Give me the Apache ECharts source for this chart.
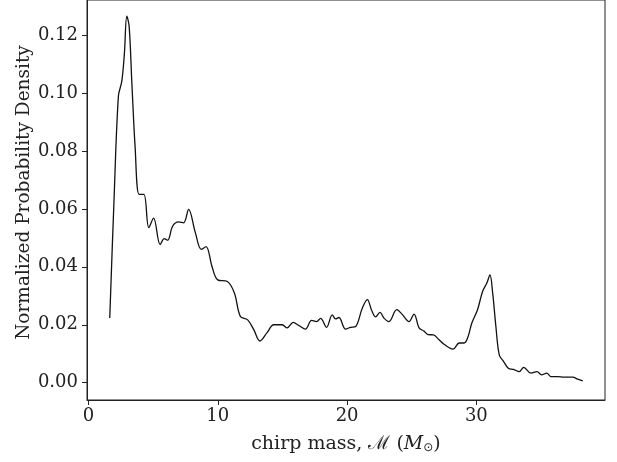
<!DOCTYPE html>
<html>
<head>
<meta charset="utf-8">
<script src="https://cdn.jsdelivr.net/npm/echarts@6/dist/echarts.min.js"></script>
<style>html,body{margin:0;padding:0;background:#fff;}#c{width:617px;height:462px;}</style>
</head>
<body>
<div id="c"></div>
<script>
const chirpMass = [1.64,1.97,2.31,2.57,2.77,2.96,3.14,3.35,3.60,3.91,4.28,4.66,5.03,5.54,5.86,6.12,6.50,6.96,7.35,7.74,8.26,8.72,9.09,9.55,9.99,10.71,11.28,11.74,12.31,12.78,13.26,13.81,14.33,14.98,15.36,15.83,16.26,16.78,17.25,17.64,17.95,18.41,18.85,19.11,19.37,19.88,20.27,20.66,21.18,21.57,21.88,22.21,22.54,22.85,23.24,23.84,24.28,24.79,25.18,25.57,25.95,26.26,26.68,27.12,27.50,28.20,28.67,29.05,29.32,29.65,30.09,30.48,30.81,31.05,31.26,31.51,31.77,32.11,32.47,32.88,33.32,33.66,34.22,34.69,35.05,35.44,35.78,36.29,36.81,37.46,37.84,38.23];
const density = [0.0223,0.0630,0.0990,0.1040,0.1135,0.1265,0.1230,0.1035,0.0815,0.0650,0.0650,0.0535,0.0568,0.0477,0.0497,0.0492,0.0540,0.0555,0.0552,0.0598,0.0518,0.0460,0.0470,0.0401,0.0355,0.0350,0.0310,0.0229,0.0217,0.0183,0.0144,0.0173,0.0200,0.0200,0.0189,0.0208,0.0198,0.0185,0.0215,0.0211,0.0222,0.0191,0.0234,0.0220,0.0225,0.0185,0.0191,0.0194,0.0258,0.0287,0.0252,0.0227,0.0243,0.0223,0.0211,0.0252,0.0235,0.0211,0.0237,0.0189,0.0178,0.0166,0.0165,0.0148,0.0133,0.0116,0.0137,0.0137,0.0154,0.0206,0.0252,0.0315,0.0344,0.0372,0.0310,0.0194,0.0096,0.0073,0.0050,0.0046,0.0038,0.0053,0.0033,0.0038,0.0027,0.0033,0.0021,0.0021,0.0019,0.0019,0.0012,0.0006];
const xTicks = [0,10,20,30];
const yTicks = [0,0.02,0.04,0.06,0.08,0.10,0.12];
const yTickLabels = ['0.00','0.02','0.04','0.06','0.08','0.10','0.12'];

const FONT = 'DejaVu Serif';
const FS = 18;
const INK = '#222';
const chart = echarts.init(document.getElementById('c'), null, {renderer:'canvas'});
chart.setOption({
  animation: false,
  backgroundColor: '#fff',
  grid: {left: 87, right: 12, top: 0, bottom: 62, show: true, borderColor: INK, borderWidth: 1, containLabel: false},
  xAxis: {
    type: 'value', min: -0.12, max: 39.95,
    axisLine: {show: true, onZero: false, lineStyle: {color: INK, width: 1}},
    axisTick: {show: true, inside: false, length: 5, lineStyle: {color: INK}, customValues: xTicks},
    axisLabel: {show: true, margin: 7, color: INK, fontFamily: FONT, fontSize: FS, customValues: xTicks, formatter: v => String(v)},
    splitLine: {show: false},
    name: '{a|chirp mass, ℳ (}{i|M}{s|⊙}{a|)}',
    nameLocation: 'middle', nameGap: 35, nameMoveOverlap: false,
    nameTextStyle: {
      color: INK, fontFamily: FONT, fontSize: 19,
      rich: {
        a: {fontFamily: FONT, fontSize: 19, color: INK},
        i: {fontFamily: FONT, fontSize: 19, fontStyle: 'italic', color: INK},
        s: {fontFamily: 'DejaVu Sans', fontSize: 12, color: INK, verticalAlign: 'bottom', padding: [6,0,0,0]}
      }
    }
  },
  yAxis: {
    type: 'value', min: -0.00597, max: 0.1321,
    axisLine: {show: true, onZero: false, lineStyle: {color: INK, width: 1}},
    axisTick: {show: true, inside: false, length: 5, lineStyle: {color: INK}, customValues: yTicks},
    axisLabel: {show: true, margin: 9, color: INK, fontFamily: FONT, fontSize: FS, customValues: yTicks,
      formatter: v => { const i = yTicks.findIndex(t => Math.abs(t - v) < 1e-9); return i >= 0 ? yTickLabels[i] : ''; }},
    splitLine: {show: false},
    name: 'Normalized Probability Density',
    nameLocation: 'middle', nameGap: 53, nameRotate: 90, nameMoveOverlap: false,
    nameTextStyle: {color: INK, fontFamily: FONT, fontSize: 18.5, padding: [0, 0, 0, 15]}
  },
  series: [{
    type: 'line',
    data: chirpMass.map((x, i) => [x, density[i]]),
    showSymbol: false,
    smooth: 0.35,
    lineStyle: {color: '#111', width: 1.3},
    clip: true
  }]
});
</script>
</body>
</html>
